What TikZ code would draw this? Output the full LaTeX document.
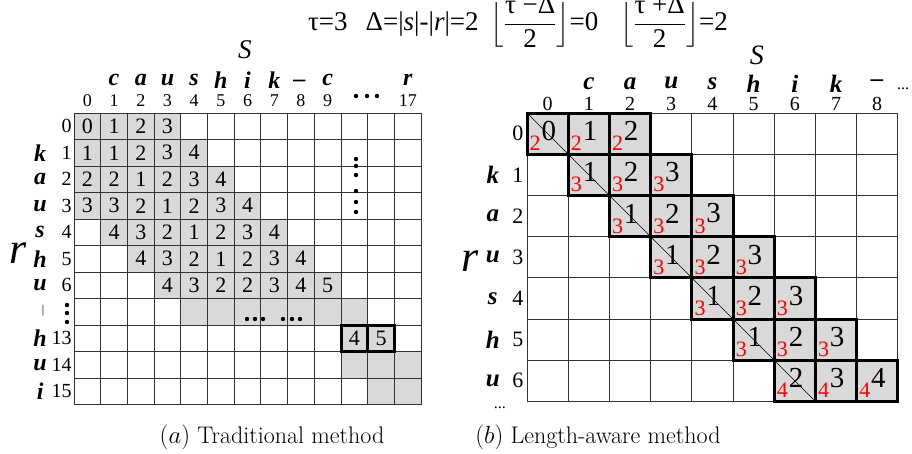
\documentclass[tikz,border=0pt]{standalone}
\usepackage{amsmath}
\usepackage{fontspec}
\newfontfamily\tnr{Liberation Serif}

\begin{document}
\begin{tikzpicture}[x=1pt,y=-1pt,
  gridline/.style={draw=black!80,line width=0.9pt},
  shaded/.style={fill=black!15},
  framed/.style={draw=black,line width=3pt,line join=miter},
  val/.style={font=\tnr\fontsize{22}{22}\selectfont,inner sep=0pt},
  bigval/.style={font=\tnr\fontsize{29}{29}\selectfont,inner sep=0pt},
  redval/.style={font=\tnr\fontsize{22}{22}\selectfont,text=red,inner sep=0pt},
  idx/.style={font=\tnr\fontsize{#1}{#1}\selectfont,inner sep=0pt},
  chr/.style={font=\tnr\bfseries\itshape\fontsize{#1}{#1}\selectfont,inner sep=0pt},
  axis/.style={font=\tnr\itshape\fontsize{#1}{#1}\selectfont,inner sep=0pt},
  caption/.style={font=\fontsize{24}{26}\selectfont,inner sep=0pt},
  dot/.style={fill=black}
]
\useasboundingbox (0,0) rectangle (912,453);

\node[idx=27] (eq) at (518,22) {τ=3\hspace{18pt}Δ=|\textit{s}|-|\textit{r}|=2\hspace{12pt}$\Bigl\lfloor\dfrac{\hbox{τ −Δ}}{\hbox{2}}\Bigr\rfloor$=0\hspace{22pt}$\Bigl\lfloor\dfrac{\hbox{τ +Δ}}{\hbox{2}}\Bigr\rfloor$=2};

% (a) traditional method
\begin{scope}[shift={(74,113)},x=26.7pt,y=-26.5pt]
  \foreach \r/\s/\vals in {0/0/{0,1,2,3},1/0/{1,1,2,3,4},2/0/{2,2,1,2,3,4},
      3/0/{3,3,2,1,2,3,4},4/1/{4,3,2,1,2,3,4},5/2/{4,3,2,1,2,3,4},6/3/{4,3,2,2,3,4,5}}
    \foreach \v [count=\k from 0] in \vals {
      \pgfmathtruncatemacro\c{\s+\k}
      \fill[shaded] (\c,\r) rectangle ++(1,1);
      \node[val] (a-\r-\c) at (\c+0.5,\r+0.5) {\v};
    }
  \fill[shaded] (4,7) rectangle (11,8);
  \fill[shaded] (10,8) rectangle (12,9);
  \fill[shaded] (10,9) rectangle (13,10);
  \fill[shaded] (11,10) rectangle (13,11);
  \foreach \i in {0,...,13} \draw[gridline] (\i,0) -- (\i,11);
  \foreach \j in {0,...,11} \draw[gridline] (0,\j) -- (13,\j);
  \draw[framed] (10,8) rectangle (11,9) (11,8) rectangle (12,9);
  \node[val] (a-8-10) at (10.5,8.5) {4};
  \node[val] (a-8-11) at (11.5,8.5) {5};
  % column heads
  \foreach \n in {0,...,9} \node[idx=18] (ac\n) at (\n+0.5,-0.48) {\n};
  \node[idx=18] (ac17) at (12.5,-0.48) {17};
  \foreach \ch [count=\c] in {c,a,u,s,h,i,k,\_,c} \node[chr=24] (as\c) at (\c+0.5,-1.25) {\ch};
  \node[chr=24] (as17) at (12.5,-1.25) {r};
  \node[axis=27] (Sa) at (6.4,-2.4) {S};
  % row heads
  \foreach \n/\ch [count=\r from 0] in {0/,1/k,2/a,3/u,4/s,5/h,6/u,/,13/h,14/u,15/i} {
    \node[idx=20,anchor=east] (ar\r) at (-0.08,\r+0.5) {\n};
    \node[chr=24] (al\r) at (-1.27,\r+0.5) {\ch};
  }
  \node[idx=12] (ar7b) at (-1.16,7.45) {|};
  \node[axis=44] (ra) at (-2.1,5.3) {r};
\end{scope}

% ellipses of the traditional table
\foreach \x in {356,367,377} \fill[dot] (\x,96) circle[radius=2.2];
\foreach \y in {159,166,175,191,202,212} \fill[dot] (356,\y) circle[radius=2.2];
\foreach \y in {305,313,322} \fill[dot] (67,\y) circle[radius=2.2];
\foreach \x in {247,255,263,283,292,300} \fill[dot] (\x,319) circle[radius=2.2];

% (b) length-aware method
\begin{scope}[shift={(527,113)},x=41.2pt,y=-41.2pt]
  \foreach \r/\lo/\red in {0/0/2,1/1/3,2/1/3,3/1/3,4/1/3,5/1/3,6/2/4}
    \foreach \k in {0,1,2} {
      \pgfmathtruncatemacro\c{\r+\k}
      \fill[shaded] (\c,\r) rectangle ++(1,1);
    }
  \foreach \i in {0,...,9} \draw[gridline] (\i,0) -- (\i,7);
  \foreach \j in {0,...,7} \draw[gridline] (0,\j) -- (9,\j);
  \draw[black,line width=0.6pt] (0,0) -- (7,7);
  \foreach \r/\lo/\red in {0/0/2,1/1/3,2/1/3,3/1/3,4/1/3,5/1/3,6/2/4}
    \foreach \k in {0,1,2} {
      \pgfmathtruncatemacro\c{\r+\k}
      \pgfmathtruncatemacro\v{\lo+\k}
      \draw[framed] (\c,\r) rectangle ++(1,1);
      \node[bigval] (b-\r-\c) at (\c+0.53,\r+0.44) {\v};
      \node[redval] (t-\r-\c) at (\c+0.2,\r+0.74) {\red};
    }
  % column heads
  \foreach \n in {0,...,8} \node[idx=20] (bc\n) at (\n+0.5,-0.22) {\n};
  \foreach \ch [count=\c] in {c,a,u,s,h,i,k,–} \node[chr=25] (bs\c) at (\c+0.5,-0.72) {\ch};
  \node[idx=16] (bcdots) at (9.13,-0.58) {...};
  \node[axis=28] (Sb) at (5.58,-1.4) {S};
  % row heads
  \foreach \n/\ch in {0/,1/k,2/a,3/u,4/s,5/h,6/u} {
    \node[idx=22] (br\n) at (-0.22,\n+0.5) {\n};
    \node[chr=25] (bl\n) at (-0.83,\n+0.5) {\ch};
  }
  \node[idx=16] (brdots) at (-0.66,7.15) {...};
  \node[axis=44] (rb) at (-1.38,3.6) {r};
\end{scope}

\node[caption] (capa) at (272,437) {$(a)$ Traditional method};
\node[caption] (capb) at (598,437) {$(b)$ Length-aware method};
\end{tikzpicture}
\end{document}
